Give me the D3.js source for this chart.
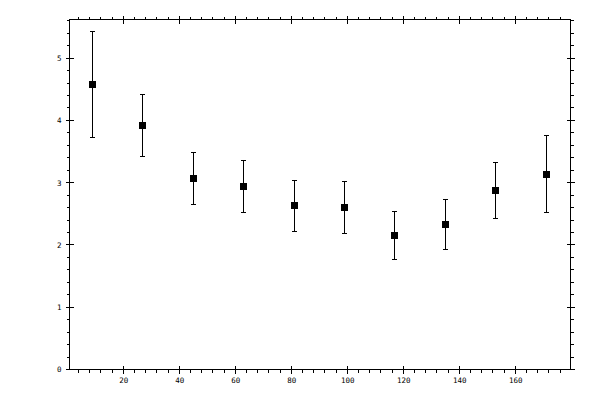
<!DOCTYPE html>
<html>
<head>
<meta charset="utf-8">
<script src="https://cdn.jsdelivr.net/npm/d3@7"></script>
<style>
  body { margin: 0; background: #fff; }
  svg { display: block; }
  text { font-family: "DejaVu Sans Mono", monospace; font-size: 7.5px; fill: #000; }
</style>
</head>
<body>
<svg id="chart" width="600" height="400"></svg>
<script>
// Data
const angles = [9, 27, 45, 63, 81, 99, 117, 135, 153, 171];
const values = [4.58, 3.92, 3.07, 2.94, 2.63, 2.60, 2.15, 2.33, 2.87, 3.13];
const upper  = [5.43, 4.42, 3.49, 3.36, 3.04, 3.02, 2.54, 2.73, 3.33, 3.76];
const lower  = [3.73, 3.42, 2.65, 2.52, 2.21, 2.18, 1.76, 1.92, 2.42, 2.52];
const xMajor = [20, 40, 60, 80, 100, 120, 140, 160];
const yMajor = [0, 1, 2, 3, 4, 5];

// Frame
const frameL = 69.5, frameR = 570.5, frameT = 19.5, frameB = 369.5;

const x = d3.scaleLinear().domain([0.8, 179.7]).range([frameL, frameR]);
const y = d3.scaleLinear().domain([0, 5.62]).range([frameB, frameT]);
const px = d => Math.floor(x(d));
const py = d => Math.floor(y(d));

const xMinor = d3.range(4, 180, 4).filter(d => !xMajor.includes(d));
const yMinor = d3.range(1, 29).map(d => d / 5).filter(d => !yMajor.includes(d));

const svg = d3.select('#chart');
const g = svg.append('g').attr('shape-rendering', 'crispEdges');

// Box
g.append('rect')
    .attr('x', frameL).attr('y', frameT)
    .attr('width', frameR - frameL).attr('height', frameB - frameT)
    .attr('fill', 'none').attr('stroke', '#000');

// Tick helpers
function hTicks(vals, yPos, dirOut, inLen, outLen) {
    g.append('g').selectAll('line').data(vals).join('line')
        .attr('x1', d => px(d) + 0.5)
        .attr('x2', d => px(d) + 0.5)
        .attr('y1', yPos - dirOut * inLen)
        .attr('y2', yPos + dirOut * outLen)
        .attr('stroke', '#000');
}
function vTicks(vals, xPos, dirOut, inLen, outLen) {
    g.append('g').selectAll('line').data(vals).join('line')
        .attr('y1', d => py(d) + 0.5)
        .attr('y2', d => py(d) + 0.5)
        .attr('x1', xPos - dirOut * inLen)
        .attr('x2', xPos + dirOut * outLen)
        .attr('stroke', '#000');
}

hTicks(xMinor, frameB, 1, 0, 3);
hTicks(xMajor, frameB, 1, 4, 4);
hTicks(xMinor, frameT, -1, 0, 3);
hTicks(xMajor, frameT, -1, 4, 4);
vTicks(yMinor, frameL, -1, 0, 3);
vTicks(yMajor, frameL, -1, 4, 4);
vTicks(yMinor, frameR, 1, 0, 3);
vTicks(yMajor, frameR, 1, 4, 4);

// Labels via axes
const xAxis = svg.append('g')
    .attr('transform', `translate(0,${frameB})`)
    .call(d3.axisBottom(x).tickValues(xMajor).tickFormat(d3.format('d')).tickSize(0).tickPadding(8));
const yAxis = svg.append('g')
    .attr('transform', `translate(${frameL},0)`)
    .call(d3.axisLeft(y).tickValues(yMajor).tickFormat(d3.format('d')).tickSize(0).tickPadding(8));
[xAxis, yAxis].forEach(a => {
    a.select('.domain').remove();
    a.attr('font-family', null).attr('font-size', null);
    a.selectAll('text').attr('fill', '#000');
});

// Error bars
const bars = g.append('g').selectAll('g').data(angles).join('g');
bars.append('line')
    .attr('x1', d => px(d) + 0.5)
    .attr('x2', d => px(d) + 0.5)
    .attr('y1', (d, i) => py(upper[i]) + 0.5)
    .attr('y2', (d, i) => py(lower[i]) + 0.5)
    .attr('stroke', '#000');
bars.append('line')
    .attr('x1', d => px(d) - 2)
    .attr('x2', d => px(d) + 3)
    .attr('y1', (d, i) => py(upper[i]) + 0.5)
    .attr('y2', (d, i) => py(upper[i]) + 0.5)
    .attr('stroke', '#000');
bars.append('line')
    .attr('x1', d => px(d) - 2)
    .attr('x2', d => px(d) + 3)
    .attr('y1', (d, i) => py(lower[i]) + 0.5)
    .attr('y2', (d, i) => py(lower[i]) + 0.5)
    .attr('stroke', '#000');
bars.append('rect')
    .attr('x', d => px(d) - 3)
    .attr('y', (d, i) => py(values[i]) - 3)
    .attr('width', 7).attr('height', 7)
    .attr('fill', '#000');
</script>
</body>
</html>
